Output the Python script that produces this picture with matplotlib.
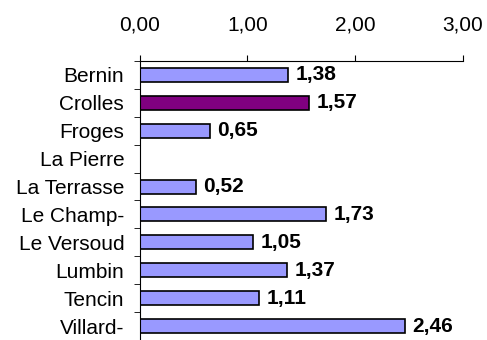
import matplotlib
matplotlib.use("Agg")
import matplotlib.pyplot as plt
import numpy as np

plt.rcParams["font.family"] = ["Liberation Sans", "DejaVu Sans"]

communes = ["Bernin", "Crolles", "Froges", "La Pierre", "La Terrasse",
            "Le Champ-", "Le Versoud", "Lumbin", "Tencin", "Villard-"]
values = [1.38, 1.57, 0.65, np.nan, 0.52, 1.73, 1.05, 1.37, 1.11, 2.46]
highlight = "Crolles"

BAR, BAR_HI = "#9999ff", "#800080"

fig = plt.figure(figsize=(4.87, 3.4), dpi=100)
ax = fig.add_axes([0.2865, 0.0, 0.664, 0.8206])

y = np.arange(len(communes))
for yi, name, v in zip(y, communes, values):
    if np.isnan(v):
        continue
    ax.barh(yi, v, height=0.5, color=BAR_HI if name == highlight else BAR,
            edgecolor="black", linewidth=1.2)
    ax.text(v + 0.07, yi, f"{v:.2f}".replace(".", ","), va="center", ha="left",
            fontsize=15, fontweight="bold")

ax.set_xlim(0, 3)
ax.set_ylim(len(communes) - 0.5, -0.5)
ax.xaxis.tick_top()
ax.set_xticks([0, 1, 2, 3])
ax.set_xticklabels(["0,00", "1,00", "2,00", "3,00"], fontsize=15)
ax.tick_params(axis="x", direction="out", length=4, pad=15)

ax.set_yticks(y)
ax.set_yticklabels(communes, fontsize=15)
ax.set_yticks(np.arange(len(communes) + 1) - 0.5, minor=True)
ax.tick_params(axis="y", which="major", length=0, pad=11)
ax.tick_params(axis="y", which="minor", length=4, direction="out")

for side in ("right", "bottom"):
    ax.spines[side].set_visible(False)
for side in ("top", "left"):
    ax.spines[side].set_linewidth(0.8)

fig.savefig("out.png", dpi=100)
